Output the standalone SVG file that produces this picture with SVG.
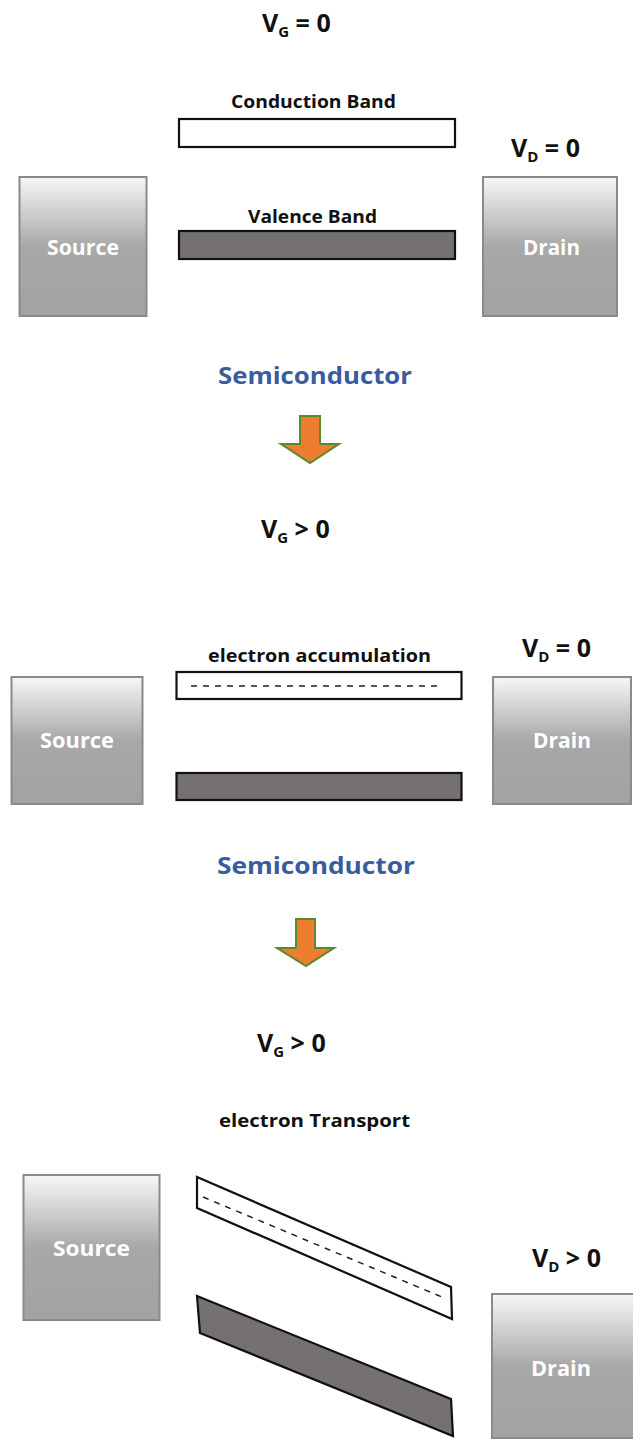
<svg xmlns="http://www.w3.org/2000/svg" width="633" height="1440" viewBox="0 0 633 1440">
<defs>
<linearGradient id="metal" x1="0" y1="0" x2="0" y2="1">
<stop offset="0" stop-color="#f7f7f7"/>
<stop offset="0.5" stop-color="#a8a8a8"/>
<stop offset="1" stop-color="#a2a2a2"/>
</linearGradient>
<style>
.t{font-family:"Open Sans","Liberation Sans",sans-serif;font-weight:bold;fill:#111}
.v{font-size:25px}
.sub{font-size:15px}
.lbl{font-size:17px}
.semi{font-size:24px;fill:#3a5b9c}
.elec{fill:url(#metal);stroke:#8a8a8a;stroke-width:2}
.et{font-family:"Open Sans","Liberation Sans",sans-serif;font-weight:bold;font-size:21px;fill:#fff}
.cb{fill:#fff;stroke:#111;stroke-width:2.2}
.vb{fill:#757170;stroke:#111;stroke-width:2.2}
.dash{stroke:#222;stroke-width:1.5;stroke-dasharray:6 6;fill:none}
.arrow{fill:#ed7d31;stroke:#5a8a2e;stroke-width:2}
</style>
</defs>

<!-- Panel 1 -->
<g id="vg1"><text class="t v" x="262" y="32">V<tspan class="sub" dy="5">G</tspan><tspan dy="-5"> = 0</tspan></text></g>
<g id="cb1-label"><text class="t lbl" x="231" y="108" textLength="165" lengthAdjust="spacingAndGlyphs">Conduction Band</text></g>
<g id="cb1"><rect class="cb" x="179" y="119" width="276" height="28"/></g>
<g id="vd1"><text class="t v" x="511" y="157">V<tspan class="sub" dy="5">D</tspan><tspan dy="-5"> = 0</tspan></text></g>
<g id="source1"><rect class="elec" x="19.5" y="177" width="127" height="139"/><text class="et" x="47" y="255" textLength="72" lengthAdjust="spacingAndGlyphs">Source</text></g>
<g id="vb1-label"><text class="t lbl" x="248" y="223" textLength="129" lengthAdjust="spacingAndGlyphs">Valence Band</text></g>
<g id="vb1"><rect class="vb" x="179" y="231" width="276" height="28"/></g>
<g id="drain1"><rect class="elec" x="483" y="177" width="134" height="139"/><text class="et" x="523" y="255" textLength="57" lengthAdjust="spacingAndGlyphs">Drain</text></g>
<g id="semi1"><text class="t semi" x="218" y="384" textLength="194" lengthAdjust="spacingAndGlyphs">Semiconductor</text></g>

<!-- Panel 2 -->
<g id="vg2"><text class="t v" x="261" y="538">V<tspan class="sub" dy="5">G</tspan><tspan dy="-5"> &gt; 0</tspan></text></g>
<g id="acc-label"><text class="t lbl" x="208" y="662" textLength="223" lengthAdjust="spacingAndGlyphs">electron accumulation</text></g>
<g id="vd2"><text class="t v" x="522" y="657">V<tspan class="sub" dy="5">D</tspan><tspan dy="-5"> = 0</tspan></text></g>
<g id="cb2"><rect class="cb" x="176.5" y="672" width="285" height="27"/><line class="dash" x1="191" y1="686" x2="443" y2="686"/></g>
<g id="source2"><rect class="elec" x="11.5" y="677" width="131" height="127"/><text class="et" x="40" y="748" textLength="74" lengthAdjust="spacingAndGlyphs">Source</text></g>
<g id="vb2"><rect class="vb" x="176.5" y="773" width="285" height="27"/></g>
<g id="drain2"><rect class="elec" x="493" y="677" width="138" height="127"/><text class="et" x="533" y="748" textLength="58" lengthAdjust="spacingAndGlyphs">Drain</text></g>
<g id="semi2"><text class="t semi" x="217" y="874" textLength="198" lengthAdjust="spacingAndGlyphs">Semiconductor</text></g>

<!-- Panel 3 -->
<g id="vg3"><text class="t v" x="257" y="1052">V<tspan class="sub" dy="5">G</tspan><tspan dy="-5"> &gt; 0</tspan></text></g>
<g id="trans-label"><text class="t lbl" x="219" y="1127" textLength="191" lengthAdjust="spacingAndGlyphs">electron Transport</text></g>
<g id="source3"><rect class="elec" x="23.5" y="1175" width="136" height="145"/><text class="et" x="53" y="1256" textLength="77" lengthAdjust="spacingAndGlyphs">Source</text></g>
<g id="cb3"><polygon class="cb" points="197,1177 451,1287 452,1319 197,1208"/><line class="dash" x1="203" y1="1197" x2="442" y2="1297"/></g>
<g id="vb3"><polygon class="vb" points="197,1296 451,1399 453,1436 200,1333"/></g>
<g id="vd3"><text class="t v" x="532" y="1267">V<tspan class="sub" dy="5">D</tspan><tspan dy="-5"> &gt; 0</tspan></text></g>
<g id="drain3"><rect class="elec" x="492" y="1294" width="142" height="144"/><text class="et" x="531" y="1376" textLength="60" lengthAdjust="spacingAndGlyphs">Drain</text></g>

<!-- Connectors (transition arrows) -->
<g id="connectors">
<polygon class="arrow" points="300,416 320,416 320,444 339,444 310,463 281,444 300,444"/>
<polygon class="arrow" points="296,919 315,919 315,948 334,948 306,966 277,948 296,948"/>
</g>
</svg>
